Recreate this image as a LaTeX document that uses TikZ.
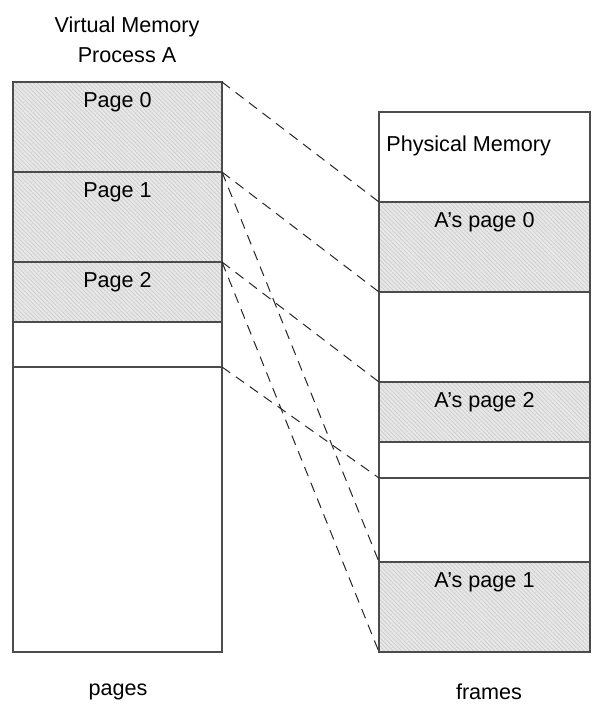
\documentclass[tikz,border=0pt]{standalone}
\usepackage{fontspec}
\setmainfont{Liberation Sans}
\usetikzlibrary{patterns.meta}

\tikzset{
  cell/.style={draw=black!70, line width=0.6pt, inner sep=0pt, outer sep=0pt, anchor=north west},
  vcell/.style={cell, minimum width=104.5pt},
  fcell/.style={cell, minimum width=105.5pt},
  hatch/.style={preaction={fill=black!9},
    pattern={Lines[angle=-45,distance=1.5pt,line width=0.35pt]}, pattern color=black!20},
  lbl/.style={font=\fontsize{10.8}{15}\selectfont, inner sep=0pt},
  inlbl/.style={lbl, anchor=north, yshift=-5pt},
  link/.style={black!85, line width=0.5pt, dash pattern=on 5pt off 3.5pt}
}

\begin{document}
\begin{tikzpicture}[x=0.5pt, y=-0.5pt]
    \useasboundingbox (0,0) rectangle (610,716);

    % virtual memory of process A
    \node[lbl, align=center] (vtitle) at (127,40) {Virtual Memory\\Process A};
    \node[vcell, hatch, minimum height=45pt, label={[inlbl]north:Page 0}] (p0) at (13,82) {};
    \node[vcell, hatch, minimum height=45pt, label={[inlbl]north:Page 1}] (p1) at (p0.south west) {};
    \node[vcell, hatch, minimum height=30pt, label={[inlbl]north:Page 2}] (p2) at (p1.south west) {};
    \node[vcell, minimum height=22.5pt] (e1) at (p2.south west) {};
    \node[vcell, minimum height=142.5pt] (e2) at (e1.south west) {};
    \node[lbl] (pages) at (118,692) {pages};

    % physical memory
    \node[fcell, minimum height=45pt] (phys) at (379,112) {};
    \node[lbl, anchor=west] (phystext) at (386,146) {Physical Memory};
    \node[fcell, hatch, minimum height=45pt, label={[inlbl]north:A’s page 0}] (f0) at (phys.south west) {};
    \node[fcell, minimum height=45pt] (g1) at (f0.south west) {};
    \node[fcell, hatch, minimum height=30pt, label={[inlbl]north:A’s page 2}] (f2) at (g1.south west) {};
    \node[fcell, minimum height=18pt] (g2) at (f2.south west) {};
    \node[fcell, minimum height=42pt] (g3) at (g2.south west) {};
    \node[fcell, hatch, minimum height=45pt, label={[inlbl]north:A’s page 1}] (f1) at (g3.south west) {};
    \node[lbl] (frames) at (489,692) {frames};

    % mapping
    \draw[link] (p0.north east) -- (f0.north west);
    \draw[link] (p1.north east) -- (g1.north west);
    \draw[link] (p1.north east) -- (f1.north west);
    \draw[link] (p2.north east) -- (f2.north west);
    \draw[link] (p2.north east) -- (f1.south west);
    \draw[link] (e2.north east) -- (g3.north west);
\end{tikzpicture}
\end{document}
